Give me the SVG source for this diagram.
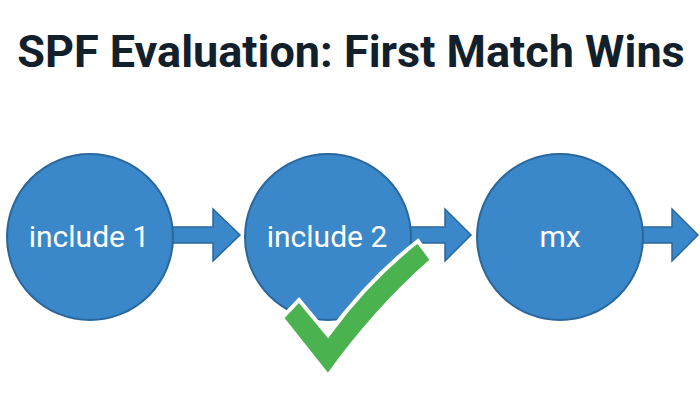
<svg xmlns="http://www.w3.org/2000/svg" width="700" height="420" viewBox="0 0 700 420">
  <style>
    .node { fill: #3a88c9; stroke: #2a679c; stroke-width: 2; }
    .lbl { font-family: Roboto, "Liberation Sans", sans-serif; font-size: 30px; fill: #ffffff; text-anchor: middle; }
    .arrow { fill: #3a88c9; stroke: #2a679c; stroke-width: 1.5; stroke-linejoin: miter; }
    .title { font-family: Roboto, "Liberation Sans", sans-serif; font-weight: bold; font-size: 45px; fill: #12202c; text-anchor: middle; }
  </style>
  <rect width="700" height="420" fill="#ffffff"/>
  <text class="title" x="351" y="67">SPF Evaluation: First Match Wins</text>
  <g id="connectors">
    <polygon class="arrow" points="170,227 213,227 213,209 240,235 213,261 213,243 170,243"/>
    <polygon class="arrow" points="408,227 445,227 445,209 471,235 445,261 445,243 408,243"/>
    <polygon class="arrow" points="640,227 672,227 672,209 698,235 672,261 672,243 640,243"/>
  </g>
  <g id="node-include1">
    <circle class="node" cx="90" cy="237" r="83"/>
    <text class="lbl" x="89" y="247">include 1</text>
  </g>
  <g id="node-include2">
    <circle class="node" cx="328" cy="237" r="83"/>
    <text class="lbl" x="327" y="247">include 2</text>
  </g>
  <g id="node-mx">
    <circle class="node" cx="560" cy="237" r="83"/>
    <text class="lbl" x="560" y="247">mx</text>
  </g>
  <g id="checkmark">
    <path d="M282,318 L299,300 L328,335 Q368,280 418,241 L432,260 Q375,310 328,376 Z" fill="#4ab34f" stroke="#ffffff" stroke-width="4" stroke-linejoin="miter"/>
  </g>
</svg>
